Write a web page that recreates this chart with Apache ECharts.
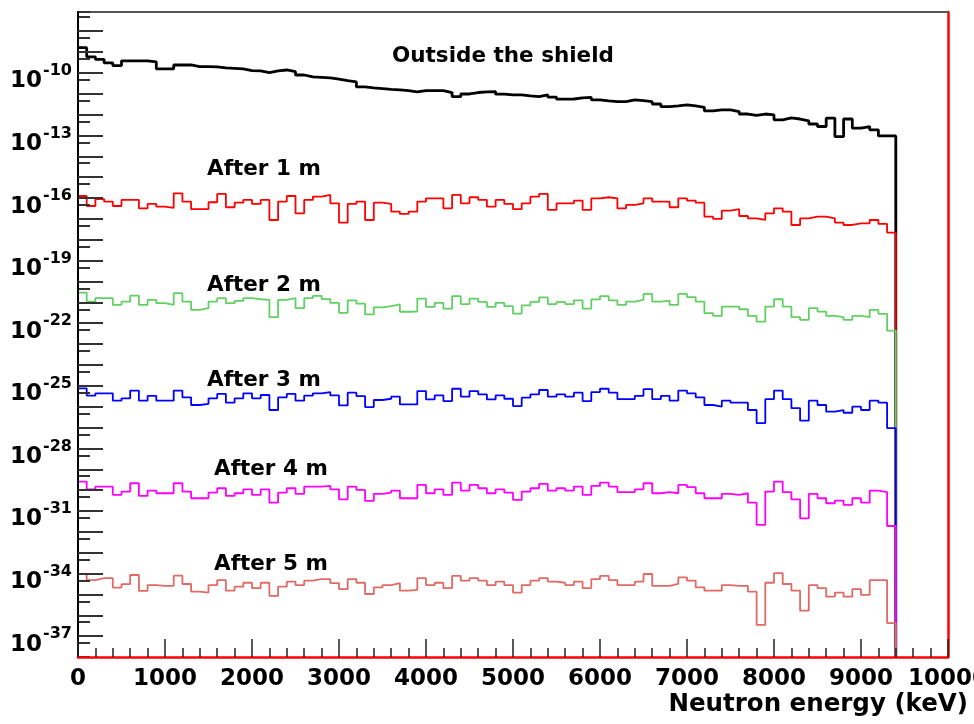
<!DOCTYPE html>
<html><head><meta charset="utf-8">
<script src="https://cdn.jsdelivr.net/npm/echarts@6/dist/echarts.min.js"></script>
<style>html,body{margin:0;padding:0;background:#fff}#c{width:974px;height:724px}</style>
</head><body><div id="c"></div>
<script>
// Histogram: 100 keV bins from 0 to 9400 keV; values are log10 of the flux in each bin
const binWidth = 100;
const eMax = 10000;
const yMin = -38;      // log10 of axis minimum
const yMax = -7.08;    // log10 of axis maximum

const outsideShield = [
 -8.79,-9.23,-9.35,-9.52,-9.65,-9.42,-9.42,-9.42,-9.47,-9.81,
 -9.81,-9.62,-9.62,-9.70,-9.70,-9.71,-9.76,-9.78,-9.81,-9.89,
 -9.90,-9.99,-9.90,-9.86,-9.94,-10.10,-10.19,-10.21,-10.24,-10.30,
 -10.37,-10.43,-10.67,-10.72,-10.75,-10.79,-10.81,-10.85,-10.91,-10.85,
 -10.85,-10.85,-10.94,-11.14,-11.01,-10.94,-10.91,-10.90,-11.02,-11.05,
 -11.05,-11.10,-11.14,-11.05,-11.16,-11.26,-11.25,-11.20,-11.17,-11.29,
 -11.34,-11.38,-11.38,-11.29,-11.33,-11.38,-11.49,-11.62,-11.58,-11.53,
 -11.58,-11.65,-11.82,-11.77,-11.77,-11.85,-11.97,-12.04,-11.97,-12.01,
 -12.25,-12.16,-12.21,-12.30,-12.45,-12.57,-12.17,-13.05,-12.21,-12.65,
 -12.57,-12.73,-13.02,-13.02];

const after1m = [
 -15.90,-16.38,-16.05,-16.17,-16.38,-16.09,-16.09,-16.49,-16.28,-16.41,
 -16.47,-15.77,-16.17,-16.53,-16.53,-16.20,-15.80,-16.44,-16.22,-16.09,
 -16.28,-16.09,-17.05,-16.17,-15.90,-16.73,-16.09,-15.93,-15.85,-16.25,
 -17.18,-16.28,-16.17,-17.05,-16.22,-16.28,-16.65,-16.76,-16.65,-16.17,
 -16.01,-16.01,-16.49,-15.85,-16.25,-15.96,-16.09,-16.41,-16.09,-16.28,
 -16.53,-16.25,-15.93,-15.80,-16.57,-16.25,-16.25,-16.12,-16.57,-16.01,
 -15.96,-16.01,-16.49,-16.33,-16.25,-16.01,-16.17,-16.17,-16.44,-16.01,
 -16.12,-16.22,-16.89,-17.00,-16.60,-16.53,-16.86,-16.97,-17.05,-16.73,
 -16.49,-16.65,-17.29,-16.97,-16.89,-16.89,-16.97,-17.18,-17.29,-17.21,
 -17.21,-17.05,-17.24,-17.66];

const after2m = [
 -20.53,-20.96,-20.80,-20.80,-21.12,-20.96,-20.68,-21.12,-20.88,-21.04,
 -21.12,-20.56,-20.96,-21.36,-21.28,-20.96,-20.80,-21.04,-20.93,-20.80,
 -20.85,-20.88,-21.71,-20.88,-20.80,-21.28,-20.80,-20.69,-20.84,-21.02,
 -21.50,-20.90,-21.06,-21.58,-21.24,-21.18,-21.10,-21.45,-21.44,-20.82,
 -21.22,-21.02,-21.30,-20.70,-21.08,-20.82,-20.98,-21.22,-21.02,-21.18,
 -21.54,-21.14,-20.98,-20.76,-21.08,-20.98,-21.08,-20.90,-21.30,-20.86,
 -20.70,-20.90,-21.12,-20.96,-20.88,-20.59,-20.96,-20.92,-21.12,-20.59,
 -20.75,-20.96,-21.52,-21.65,-21.20,-21.20,-21.33,-21.65,-21.92,-21.20,
 -20.85,-21.20,-21.71,-21.84,-21.28,-21.44,-21.65,-21.71,-21.84,-21.65,
 -21.71,-21.36,-21.55,-22.35];

const after3m = [
 -25.12,-25.47,-25.36,-25.36,-25.71,-25.60,-25.23,-25.71,-25.48,-25.71,
 -25.71,-25.23,-25.55,-25.92,-25.87,-25.60,-25.39,-25.81,-25.60,-25.36,
 -25.60,-25.44,-26.16,-25.55,-25.39,-25.71,-25.47,-25.36,-25.30,-25.46,
 -25.94,-25.33,-25.49,-26.02,-25.68,-25.62,-25.52,-25.89,-25.89,-25.25,
 -25.65,-25.46,-25.73,-25.14,-25.52,-25.25,-25.41,-25.65,-25.46,-25.62,
 -25.97,-25.57,-25.41,-25.20,-25.52,-25.41,-25.52,-25.33,-25.73,-25.30,
 -25.14,-25.33,-25.64,-25.64,-25.48,-25.16,-25.64,-25.48,-25.71,-25.23,
 -25.36,-25.55,-25.92,-26.00,-25.71,-25.81,-25.81,-26.16,-26.79,-25.64,
 -25.23,-25.64,-26.07,-26.67,-25.71,-25.92,-26.24,-26.16,-26.29,-26.00,
 -26.16,-25.71,-25.81,-27.03];

const after4m = [
 -29.59,-29.96,-29.83,-29.83,-30.23,-30.07,-29.67,-30.28,-30.02,-30.15,
 -30.15,-29.67,-30.07,-30.39,-30.39,-30.12,-29.91,-30.28,-30.15,-29.96,
 -30.23,-29.96,-30.60,-30.12,-29.91,-30.18,-29.83,-29.83,-29.80,-29.96,
 -30.44,-29.83,-29.99,-30.52,-30.18,-30.12,-30.02,-30.39,-30.39,-29.75,
 -30.15,-29.96,-30.23,-29.64,-30.02,-29.75,-29.91,-30.15,-29.96,-30.12,
 -30.47,-30.07,-29.91,-29.70,-30.02,-29.91,-30.02,-29.83,-30.23,-29.80,
 -29.64,-29.83,-30.10,-30.10,-29.96,-29.67,-30.15,-30.10,-30.15,-29.75,
 -29.86,-30.15,-30.39,-30.39,-30.18,-30.23,-30.15,-30.60,-31.67,-30.07,
 -29.59,-30.10,-30.44,-31.35,-30.18,-30.39,-30.63,-30.50,-30.71,-30.39,
 -30.60,-30.02,-30.10,-31.72];

const after5m = [
 -34.02,-34.31,-34.22,-34.22,-34.67,-34.51,-34.07,-34.83,-34.55,-34.59,
 -34.59,-34.10,-34.50,-34.87,-34.91,-34.55,-34.31,-34.82,-34.63,-34.44,
 -34.70,-34.44,-35.07,-34.63,-34.39,-34.55,-34.34,-34.27,-34.27,-34.46,
 -34.75,-34.27,-34.44,-34.98,-34.66,-34.55,-34.46,-34.82,-34.78,-34.22,
 -34.55,-34.44,-34.70,-34.11,-34.34,-34.22,-34.34,-34.55,-34.39,-34.55,
 -34.91,-34.55,-34.34,-34.22,-34.39,-34.44,-34.55,-34.39,-34.70,-34.27,
 -34.11,-34.31,-34.55,-34.55,-34.39,-34.02,-34.59,-34.59,-34.50,-34.18,
 -34.34,-34.66,-34.82,-34.82,-34.55,-34.59,-34.59,-34.87,-36.46,-34.44,
 -33.98,-34.50,-34.82,-35.78,-34.55,-34.70,-35.11,-34.91,-35.11,-34.75,
 -35.02,-34.31,-34.31,-36.38];

const seriesNames = ['Outside the shield','After 1 m','After 2 m','After 3 m','After 4 m','After 5 m'];
const seriesColors = ['#000000','#ff0000','#62d062','#0000ff','#ff00ff','#e06a64'];
const seriesValues = [outsideShield, after1m, after2m, after3m, after4m, after5m];
const xTickLabels = ['0','1000','2000','3000','4000','5000','6000','7000','8000','9000','10000'];

function histogramPoints(vals) {
  const pts = vals.map((v, i) => [i * binWidth, v]);
  const end = vals.length * binWidth;
  pts.push([end, vals[vals.length - 1]]);
  pts.push([end, yMin]);   // empty bins above the last filled bin
  return pts;
}

const FONT = 'DejaVu Sans';
const chart = echarts.init(document.getElementById('c'), null, {renderer: 'canvas'});

chart.setOption({
  animation: false,
  backgroundColor: '#ffffff',
  grid: {left: 78, right: 26, top: 12, bottom: 67, outerBoundsMode: 'none', containLabel: false},
  xAxis: [{
    type: 'value', min: 0, max: eMax, interval: 1000, position: 'bottom', z: 10,
    axisLine: {show: true, onZero: false, lineStyle: {color: '#ff0000', width: 2.5}},
    axisTick: {show: true, inside: true, length: 18, lineStyle: {color: '#222', width: 1.5}},
    minorTick: {show: true, splitNumber: 5, length: 9, lineStyle: {color: '#222', width: 1.5}},
    splitLine: {show: false},
    axisLabel: {
      margin: 11, color: '#000', fontFamily: FONT, fontWeight: 'bold', fontSize: 23,
      showMinLabel: true, showMaxLabel: true, hideOverlap: false,
      formatter: (v) => xTickLabels[Math.round(v / 1000)] || ''
    }
  }, {
    type: 'value', min: 0, max: eMax, position: 'top',
    axisLine: {show: true, onZero: false, lineStyle: {color: '#555', width: 2}},
    axisTick: {show: false}, axisLabel: {show: false}, splitLine: {show: false}
  }],
  yAxis: [{
    type: 'value', min: yMin, max: yMax, splitNumber: 31, position: 'left', z: 5,
    axisLine: {show: true, onZero: false, lineStyle: {color: '#000', width: 2}},
    axisTick: {show: true, inside: true, length: 25, lineStyle: {color: '#333', width: 2}},
    splitLine: {show: false},
    axisLabel: {
      margin: 6, color: '#000', fontFamily: FONT, fontWeight: 'bold',
      showMinLabel: false, showMaxLabel: false, padding: [10, 0, 0, 0],
      formatter: (v) => {
        const n = Math.round(v);
        if (Math.abs(v - n) > 1e-6) return '';
        if (((n + 37) % 3 + 3) % 3 !== 0) return '';
        return '{b|10}{s|' + n + '}';
      },
      rich: {
        b: {fontFamily: FONT, fontWeight: 'bold', fontSize: 23, color: '#000', verticalAlign: 'bottom', lineHeight: 30},
        s: {fontFamily: FONT, fontWeight: 'bold', fontSize: 16, color: '#000', verticalAlign: 'top', lineHeight: 30, padding: [0, 0, 0, 1]}
      }
    }
  }, {
    type: 'value', min: yMin + 0.33, max: yMax + 0.33, splitNumber: 31, position: 'left', z: 4,
    axisLine: {show: false}, axisLabel: {show: false}, splitLine: {show: false},
    axisTick: {show: true, inside: true, length: 12, lineStyle: {color: '#333', width: 2}}
  }, {
    type: 'value', min: yMin, max: yMax, position: 'right',
    axisLine: {show: true, onZero: false, lineStyle: {color: '#ff0000', width: 2.5}},
    axisTick: {show: false}, axisLabel: {show: false}, splitLine: {show: false}
  }],
  series: seriesValues.map((vals, k) => ({
    name: seriesNames[k], type: 'line', step: 'end', xAxisIndex: 0, yAxisIndex: 0,
    data: histogramPoints(vals), showSymbol: false, symbol: 'none', z: 3,
    lineStyle: {color: seriesColors[k], width: k === 0 ? 2.8 : 1.8},
    itemStyle: {color: seriesColors[k]}
  })),
  graphic: [
    {type: 'text', left: 392, top: 45, style: {text: 'Outside the shield', font: 'bold 21.5px "DejaVu Sans"', fill: '#000'}},
    {type: 'text', left: 207, top: 158, style: {text: 'After 1 m', font: 'bold 21.5px "DejaVu Sans"', fill: '#000'}},
    {type: 'text', left: 207, top: 274, style: {text: 'After 2 m', font: 'bold 21.5px "DejaVu Sans"', fill: '#000'}},
    {type: 'text', left: 207, top: 369, style: {text: 'After 3 m', font: 'bold 21.5px "DejaVu Sans"', fill: '#000'}},
    {type: 'text', left: 214, top: 458, style: {text: 'After 4 m', font: 'bold 21.5px "DejaVu Sans"', fill: '#000'}},
    {type: 'text', left: 214, top: 553, style: {text: 'After 5 m', font: 'bold 21.5px "DejaVu Sans"', fill: '#000'}},
    {type: 'text', right: 6, top: 692, style: {text: 'Neutron energy (keV)', font: 'bold 24.5px "DejaVu Sans"', fill: '#000'}}
  ]
});
</script>
</body></html>
